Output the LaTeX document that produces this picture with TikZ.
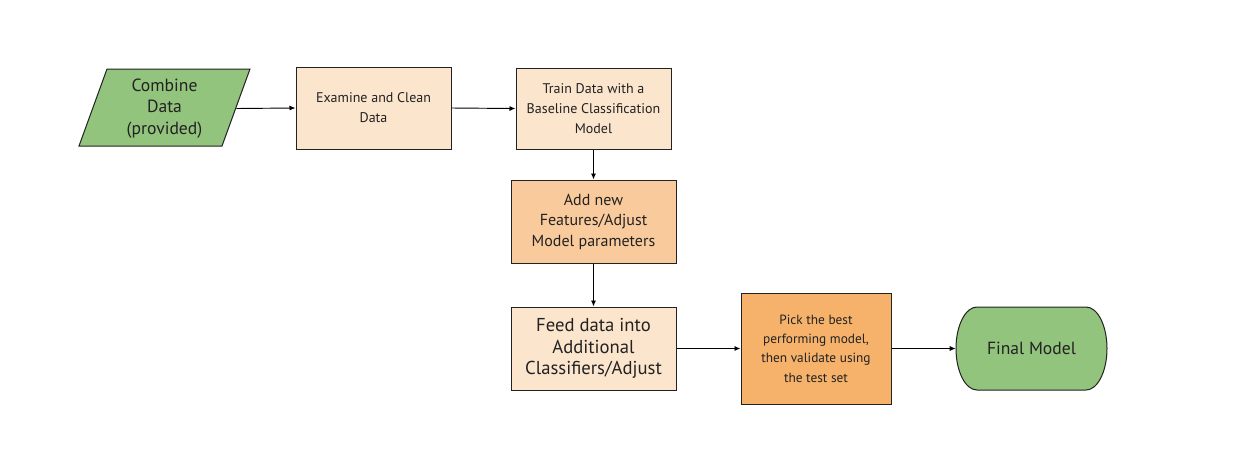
\documentclass[tikz,border=0pt]{standalone}
\usepackage{fontspec}
\setmainfont{PT Sans}
\usetikzlibrary{arrows.meta}
\definecolor{gfill}{HTML}{93C47D}
\definecolor{lfill}{HTML}{FCE5CD}
\definecolor{mfill}{HTML}{F9CB9C}
\definecolor{dfill}{HTML}{F6B26B}
\definecolor{edge}{HTML}{222222}
\tikzset{
  px/.style={x=0.75pt,y=-0.75pt},
  box/.style={draw=edge,line width=0.75pt,align=center,inner sep=0pt,text=edge},
  plain/.style={align=center,inner sep=0pt,text=edge},
  shape line/.style={fill=gfill,draw=edge,line width=0.75pt},
  small/.style={font=\fontsize{10.5}{15}\selectfont},
  smaller/.style={font=\fontsize{10}{14.5}\selectfont},
  large/.style={font=\fontsize{13.2}{16}\selectfont},
  medium/.style={font=\fontsize{12}{15.4}\selectfont},
  larger/.style={font=\fontsize{14}{16.2}\selectfont},
  conn/.style={draw=black,line width=0.7pt,-{Latex[length=4.5pt,width=3.8pt]}},
}
\begin{document}
\begin{tikzpicture}[px]
\useasboundingbox (0,0) rectangle (1235,472);
\fill[white] (0,0) rectangle (1235,472);
% parallelogram
\filldraw[shape line] (107,69) -- (250,69) -- (222,146) -- (79,146) -- cycle;
\node[plain,large,minimum width=107.25pt,minimum height=57.75pt] (comb) at (164.5,108.5) {Combine\\Data\\(provided)};
% final model
\filldraw[shape line] (977,307) -- (1086,307)
  .. controls (1097.6,307) and (1107,325.6) .. (1107,348.5)
  .. controls (1107,371.4) and (1097.6,390) .. (1086,390)
  -- (977,390)
  .. controls (965.4,390) and (956,371.4) .. (956,348.5)
  .. controls (956,325.6) and (965.4,307) .. (977,307) -- cycle;
\node[plain,large,minimum width=113.25pt,minimum height=62.25pt] (final) at (1031.5,348.5) {Final Model};
\node[box,small,fill=lfill,minimum width=116.25pt,minimum height=61.5pt] (exam) at (373.5,108) {Examine and Clean\\Data};
\node[box,small,fill=lfill,minimum width=116.25pt,minimum height=60.75pt] (train) at (593.5,108.5) {Train Data with a\\Baseline Classification\\Model};
\node[box,medium,fill=mfill,minimum width=123.75pt,minimum height=62.25pt] (add) at (593.5,221.5) {Add new\\Features/Adjust\\Model parameters};
\node[box,larger,fill=lfill,minimum width=123.75pt,minimum height=62.25pt] (feed) at (593.5,348.5) {Feed data into\\Additional\\Classifiers/Adjust};
\node[box,smaller,fill=dfill,minimum width=112.5pt,minimum height=83.25pt] (pick) at (816,348.5) {Pick the best\\performing model,\\then validate using\\the test set};
\draw[conn] (comb.east) -- (exam.west);
\draw[conn] (exam.east) -- (train.west);
\draw[conn] (train.south) -- (add.north);
\draw[conn] (add.south) -- (feed.north);
\draw[conn] (feed.east) -- (pick.west);
\draw[conn] (pick.east) -- (final.west);
\end{tikzpicture}
\end{document}
